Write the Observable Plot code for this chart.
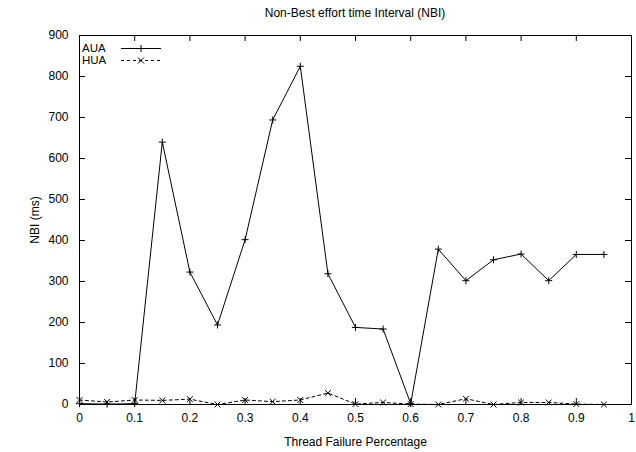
<!DOCTYPE html>
<html>
<head>
<meta charset="utf-8">
<script src="https://cdn.jsdelivr.net/npm/d3@7"></script>
<script src="https://cdn.jsdelivr.net/npm/@observablehq/plot@0.6"></script>
<style>
  html, body { margin: 0; padding: 0; background: #fff; }
  #wrap { position: relative; width: 636px; height: 452px; font-family: "Liberation Sans", Arial, sans-serif; }
  #title { position: absolute; left: 79px; width: 552px; top: 6px; text-align: center; font-size: 12px; color: #000; }
  #chart { position: absolute; left: 0; top: 26px; }
  #legend { position: absolute; left: 82px; top: 41.5px; font-size: 11.5px; color: #000; }
  #legend .row { display: flex; align-items: center; height: 12px; }
  #legend .lbl { width: 39px; line-height: 12px; height: 12px; }
  #legend svg { display: block; }
</style>
</head>
<body>
<div id="wrap">
  <div id="title">Non-Best effort time Interval (NBI)</div>
  <div id="chart"></div>
  <div id="legend"></div>
</div>
<script>
const failure = [0, 0.05, 0.1, 0.15, 0.2, 0.25, 0.3, 0.35, 0.4, 0.45, 0.5, 0.55, 0.6, 0.65, 0.7, 0.75, 0.8, 0.85, 0.9, 0.95];
const aua = [2, 1, 2, 640, 323, 194, 402, 694, 825, 319, 188, 184, 2, 379, 302, 353, 367, 302, 366, 366];
const hua = [11, 6, 11, 10, 13, 0, 11, 7, 11, 28, 1, 5, 1, 0, 14, 0, 5, 5, 1, 0];
const seriesNames = ["AUA", "HUA"];
const xTicks = [0, 0.1, 0.2, 0.3, 0.4, 0.5, 0.6, 0.7, 0.8, 0.9, 1];
const yTicks = [0, 100, 200, 300, 400, 500, 600, 700, 800, 900];

const rows = [];
failure.forEach((f, i) => {
  rows.push({x: f, y: aua[i], s: seriesNames[0]});
  rows.push({x: f, y: hua[i], s: seriesNames[1]});
});
const A = rows.filter(d => d.s === "AUA");
const H = rows.filter(d => d.s === "HUA");

const W = 636, HT = 426;
const mL = 79, mR = 5, mT = 9, mB = 48;
const innerH = HT - mT - mB, innerW = W - mL - mR;
const tk = 6;

const chart = Plot.plot({
  width: W, height: HT,
  marginLeft: mL, marginRight: mR, marginTop: mT, marginBottom: mB,
  style: {fontFamily: "'Liberation Sans', Arial, sans-serif", fontSize: "12px", color: "#000", background: "#fff"},
  x: {domain: [0, 1]},
  y: {domain: [0, 900]},
  marks: [
    Plot.frame({stroke: "#000", strokeWidth: 1}),
    Plot.tickX(xTicks, {x: d => d, insetTop: innerH - tk, stroke: "#000"}),
    Plot.tickX(xTicks, {x: d => d, insetBottom: innerH - tk, stroke: "#000"}),
    Plot.tickY(yTicks, {y: d => d, insetRight: innerW - tk, stroke: "#000"}),
    Plot.tickY(yTicks, {y: d => d, insetLeft: innerW - tk, stroke: "#000"}),
    Plot.axisX({ticks: xTicks, tickSize: 0, tickPadding: 9, tickFormat: d => String(d), label: "Thread Failure Percentage", labelAnchor: "center", labelOffset: 41, labelArrow: "none", fontSize: 12}),
    Plot.axisY({ticks: yTicks, tickSize: 0, tickPadding: 11, label: "NBI (ms)", labelAnchor: "center", labelOffset: 49, labelArrow: "none", fontSize: 12}),
    Plot.line(H, {x: "x", y: "y", stroke: "#000", strokeWidth: 1, strokeDasharray: "3,3"}),
    Plot.dot(H, {x: "x", y: "y", symbol: "times", r: 2.8, stroke: "#000", strokeWidth: 1}),
    Plot.line(A, {x: "x", y: "y", stroke: "#000", strokeWidth: 1}),
    Plot.dot(A, {x: "x", y: "y", symbol: "plus", r: 2.4, stroke: "#000", strokeWidth: 1})
  ]
});
document.getElementById("chart").appendChild(chart);

// legend
const leg = document.getElementById("legend");
seriesNames.forEach((name, i) => {
  const row = document.createElement("div");
  row.className = "row";
  const lbl = document.createElement("span");
  lbl.className = "lbl";
  lbl.textContent = name;
  row.appendChild(lbl);
  const svg = d3.create("svg").attr("width", 41).attr("height", 12);
  svg.append("line").attr("x1", 0).attr("x2", 40).attr("y1", 6.5).attr("y2", 6.5)
    .attr("stroke", "#000").attr("stroke-width", 1)
    .attr("stroke-dasharray", i === 0 ? null : "3,3");
  const sym = d3.symbol(i === 0 ? d3.symbolPlus : d3.symbolTimes, i === 0 ? 18 : 25)();
  svg.append("path").attr("d", sym).attr("transform", "translate(20,6.5)")
    .attr("fill", "none").attr("stroke", "#000").attr("stroke-width", 1);
  row.appendChild(svg.node());
  leg.appendChild(row);
});
</script>
</body>
</html>
